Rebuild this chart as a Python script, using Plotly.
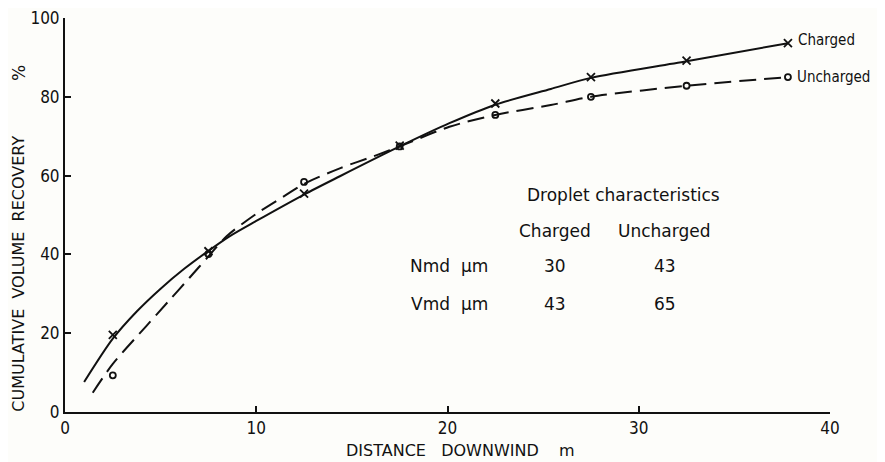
import plotly.graph_objects as go

# ---- data ----
distance = [2.5, 7.5, 12.5, 17.5, 22.5, 27.5, 32.5, 37.8]
charged = [19.6, 40.8, 55.4, 67.6, 78.3, 85.0, 89.2, 93.6]
uncharged = [9.3, 40.1, 58.4, 67.4, 75.4, 80.0, 82.8, 85.0]

charged_curve_x = [1.0, 2.5, 3.75, 5.0, 6.25, 7.5, 8.6, 10.0, 12.5, 14.4, 17.5, 20.1, 22.5, 25.4, 27.5, 32.5, 37.8]
charged_curve_y = [7.6, 18.6, 25.5, 31.3, 36.4, 40.9, 44.6, 48.5, 55.2, 59.9, 67.4, 73.3, 78.0, 82.0, 84.8, 89.0, 93.6]
uncharged_curve_x = [1.45, 2.5, 4.25, 5.5, 6.5, 7.5, 8.45, 10.0, 11.4, 12.5, 14.4, 16.3, 17.5, 20.1, 22.5, 25.4, 27.5, 32.5, 37.8]
uncharged_curve_y = [4.9, 12.2, 21.8, 28.6, 34.0, 39.5, 44.6, 50.3, 54.6, 57.9, 61.9, 65.2, 67.4, 72.4, 75.4, 77.9, 80.0, 82.8, 85.0]

x_ticks = [0, 10, 20, 30, 40]
y_ticks = [0, 20, 40, 60, 80, 100]

series_names = ["Charged", "Uncharged"]
table_title = "Droplet characteristics"
table_rows = ["Nmd", "Vmd"]
table_unit = "\u00b5m"
table_values = [[30, 43], [43, 65]]

FONT = "DejaVu Sans"
FONT_C = "DejaVu Sans Condensed"
INK = "#111111"
BG = "#fdfdfa"

# page has an 8px body margin; size the figure so nothing overflows the window
W, H = 877, 454
OFF = 8
L, T = 65 - OFF, 18 - OFF
R = W - (830 - OFF)
B = H - (412.5 - OFF)
pw, ph = W - L - R, H - T - B


def px2paper(px, py):
    """reference-window pixel -> paper coords"""
    return (px - OFF - L) / pw, (H - B - (py - OFF)) / ph


fig = go.Figure()

fig.add_trace(go.Scatter(x=charged_curve_x, y=charged_curve_y, mode="lines",
                         line=dict(color=INK, width=2, shape="spline", smoothing=0.8),
                         hoverinfo="skip", showlegend=False))
fig.add_trace(go.Scatter(x=uncharged_curve_x, y=uncharged_curve_y, mode="lines",
                         line=dict(color=INK, width=2, dash="17px,8px", shape="spline", smoothing=0.8),
                         hoverinfo="skip", showlegend=False))
fig.add_trace(go.Scatter(x=distance, y=charged, mode="markers", name=series_names[0],
                         marker=dict(symbol="x-thin", size=8, line=dict(color=INK, width=1.8)),
                         showlegend=False))
fig.add_trace(go.Scatter(x=distance, y=uncharged, mode="markers", name=series_names[1],
                         marker=dict(symbol="circle-open", size=6, color=INK, line=dict(color=INK, width=1.8)),
                         showlegend=False))

ann = []
lfont = dict(size=15, family=FONT_C, color=INK)
# end-of-line labels
ann.append(dict(x=distance[-1] + 0.4, y=charged[-1] + 0.8, xref="x", yref="y",
                text=series_names[0], showarrow=False, xanchor="left", yanchor="middle", font=lfont))
ann.append(dict(x=distance[-1] + 0.35, y=uncharged[-1], xref="x", yref="y",
                text=series_names[1], showarrow=False, xanchor="left", yanchor="middle", font=lfont))

# table
tfont = dict(size=17, family=FONT, color=INK)
ann.append(dict(x=29.2, y=55.1, xref="x", yref="y", text=table_title, showarrow=False, font=tfont))
col_x = [25.6, 31.35]
for name, cx in zip(series_names, col_x):
    ann.append(dict(x=cx, y=46.0, xref="x", yref="y", text=name, showarrow=False, font=tfont))
row_y = [37.0, 27.3]
for r, ry, vals in zip(table_rows, row_y, table_values):
    ann.append(dict(x=19.1, y=ry, xref="x", yref="y", text=r, showarrow=False, font=tfont))
    ann.append(dict(x=21.4, y=ry, xref="x", yref="y", text=table_unit, showarrow=False, font=tfont))
    for v, cx in zip(vals, col_x):
        ann.append(dict(x=cx, y=ry, xref="x", yref="y", text=str(v), showarrow=False, font=tfont))

# axis titles (positioned in reference pixels)
for text, px, py, ang, size in [
    ("CUMULATIVE  VOLUME  RECOVERY", 19, 274, -90, 16),
    ("%", 19, 73, -90, 17),
    ("DISTANCE   DOWNWIND    m", 460, 451, 0, 16),
]:
    ax_, ay_ = px2paper(px, py)
    ann.append(dict(x=ax_, y=ay_, xref="paper", yref="paper", text=text, textangle=ang,
                    showarrow=False, xanchor="center", yanchor="middle",
                    font=dict(size=size, family=FONT, color=INK)))

fig.update_layout(
    width=W, height=H,
    margin=dict(l=L, r=R, t=T, b=B, autoexpand=False),
    paper_bgcolor=BG, plot_bgcolor=BG,
    font=dict(family=FONT_C, size=17, color=INK),
    annotations=ann,
    showlegend=False,
)
fig.update_xaxes(range=[0, 40], tickvals=x_ticks, ticks="inside", ticklen=6, tickwidth=1.5,
                 tickcolor=INK, showline=True, linecolor=INK, linewidth=2, showgrid=False,
                 zeroline=False, ticklabeloverflow="allow", automargin=False,
                 tickfont=dict(size=17, family=FONT_C, color=INK))
fig.update_yaxes(range=[0, 100], tickvals=y_ticks, ticks="inside", ticklen=6, tickwidth=1.5,
                 tickcolor=INK, showline=True, linecolor=INK, linewidth=2, showgrid=False,
                 zeroline=False, ticklabeloverflow="allow", automargin=False,
                 tickfont=dict(size=17, family=FONT_C, color=INK))

fig.write_html("out.html")
